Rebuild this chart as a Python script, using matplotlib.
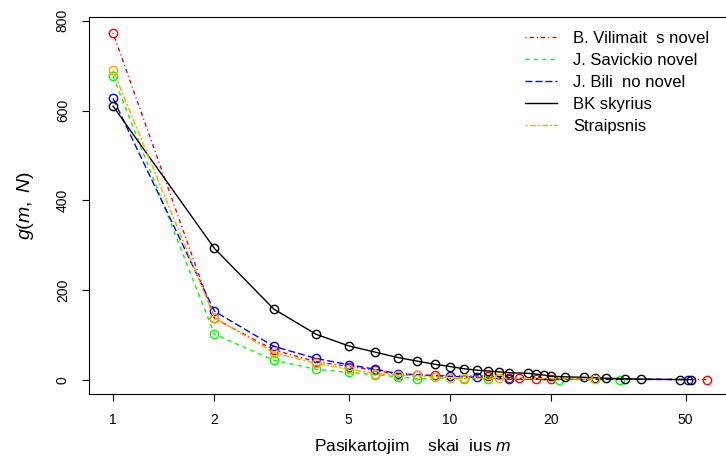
import matplotlib
matplotlib.use("Agg")
import matplotlib.pyplot as plt
from matplotlib.lines import Line2D
from matplotlib.ticker import FixedLocator, NullLocator

plt.rcParams['font.family'] = ['Liberation Sans', 'DejaVu Sans']
plt.rcParams['mathtext.fontset'] = 'custom'
plt.rcParams['mathtext.rm'] = 'Liberation Sans'
plt.rcParams['mathtext.it'] = 'Liberation Sans:italic'

# frequency spectra: m = times repeated, g = number of words
m_red = [1, 2, 3, 4, 5, 6, 7, 8, 9, 13, 15, 16, 18, 20, 58]
g_red = [773, 137, 67, 41, 30, 22, 12, 11, 10, 9, 4, 4, 3, 2, 1]

m_green = [1, 2, 3, 4, 5, 6, 7, 8, 11, 13, 21, 32]
g_green = [677, 102, 44, 24, 17, 12, 7, 3, 3, 2, 1, 1]

m_blue = [1, 2, 3, 4, 5, 6, 7, 10, 12, 15, 51]
g_blue = [627, 153, 75, 48, 34, 24, 14, 8, 6, 2, 1]

m_black = [1, 2, 3, 4, 5, 6, 7, 8, 9, 10, 11, 12, 13, 14, 15, 17, 18, 19, 20,
           22, 25, 27, 29, 33, 37, 48, 52]
g_black = [610, 293, 158, 102, 76, 62, 50, 42, 35, 30, 25, 22, 20, 18, 16, 15,
           13, 11, 8, 7, 6, 5, 4, 3, 2, 1, 1]

m_orange = [1, 2, 3, 4, 5, 6, 7, 8, 9, 10, 11, 14, 27]
g_orange = [690, 139, 61, 37, 24, 14, 11, 10, 7, 4, 4, 4, 2]

labels = ['B. Vilimait  s novel', 'J. Savickio novel', 'J. Bili  no novel',
          'BK skyrius', 'Straipsnis']
xticks = [1, 2, 5, 10, 20, 50]
yticks = [0, 200, 400, 600, 800]

series = [
    (m_red, g_red, '#FF0000', (0, (0.8, 2.2, 3, 2.2))),
    (m_green, g_green, '#00FF00', (0, (3, 3))),
    (m_blue, g_blue, '#0000FF', (0, (5, 2.2))),
    (m_black, g_black, '#000000', '-'),
    (m_orange, g_orange, '#FFA500', (0, (1.5, 1.5, 4.3, 1.5))),
]

fig = plt.figure(figsize=(7.26, 4.61), dpi=100)
W, H = 726, 461
# plot region runs past the right edge of the picture
ax = fig.add_axes([89.2 / W, (H - 394) / H, (731 - 89.2) / W, (394 - 16.7) / H])

handles = []
for m, g, col, ls in series:
    ax.plot(m, g, color=col, linestyle=ls, linewidth=1.0, marker='o',
            markersize=6, markerfacecolor='none', markeredgecolor=col,
            markeredgewidth=1.0)
    handles.append(Line2D([], [], color=col, linestyle=ls, linewidth=1.0))

ax.set_xscale('log')
ax.set_xlim(10 ** -0.0706, 10 ** 1.8338)
ax.set_ylim(-31.2, 809)
ax.xaxis.set_major_locator(FixedLocator(xticks))
ax.xaxis.set_minor_locator(NullLocator())
ax.set_xticklabels([str(t) for t in xticks])
ax.set_yticks(yticks)
ax.set_yticklabels([str(t) for t in yticks], rotation=90, va='center')
ax.tick_params(axis='both', direction='out', length=5, width=0.8,
               labelsize=10, pad=9)
ax.spines['right'].set_visible(False)
for s in ['left', 'top', 'bottom']:
    ax.spines[s].set_linewidth(0.8)

fig.text(26 / W, 1 - 205 / H, r'$g(m,\ N)$', rotation=90, ha='center',
         va='center', fontsize=14)
fig.text(413 / W, 1 - 446 / H, r'Pasikartojim    skai  ius $m$',
         ha='center', va='center', fontsize=12.5)

ax.legend(handles, labels, loc='upper left', frameon=False,
          bbox_to_anchor=(525 / W, 1 - 31 / H), bbox_transform=fig.transFigure,
          borderpad=0, borderaxespad=0, handlelength=1.9, handletextpad=1.0,
          labelspacing=0.42, fontsize=12)

fig.savefig('out.png', dpi=100)
